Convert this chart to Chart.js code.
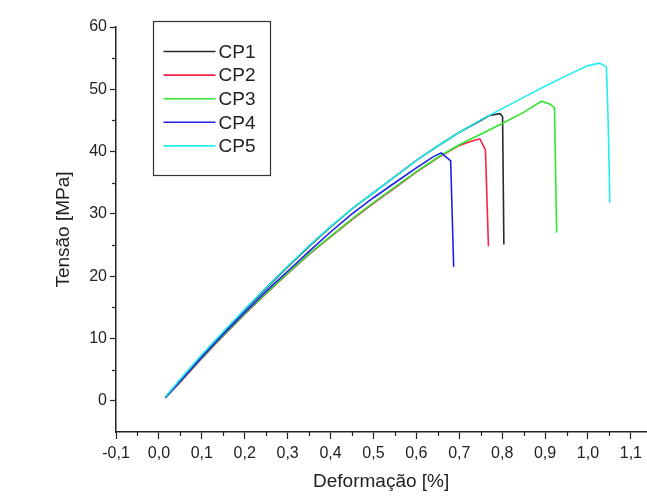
<!DOCTYPE html>
<html><head><meta charset="utf-8">
<script src="https://cdn.jsdelivr.net/npm/chart.js@4.4.0/dist/chart.umd.min.js"></script>
<style>html,body{margin:0;padding:0;background:#fff}#wrap{width:647px;height:496px}</style>
</head><body><div id="wrap"><canvas id="c" width="647" height="496"></canvas></div>
<script>
// ---- data ----
const seriesNames = ['CP1', 'CP2', 'CP3', 'CP4', 'CP5'];
const seriesColors = ['#2a2a2a', '#ff1f45', '#2ee62e', '#2020ee', '#22eeee'];

const cp1X = [0.015, 0.05, 0.1, 0.15, 0.2, 0.25, 0.3, 0.35, 0.4, 0.45, 0.5, 0.55, 0.6, 0.65, 0.7, 0.75, 0.77, 0.795, 0.801, 0.804];
const cp1Y = [0.6, 3.4, 7.3, 11.0, 14.6, 18.1, 21.5, 24.8, 27.9, 30.8, 33.4, 36.0, 38.6, 40.9, 43.1, 45.0, 45.8, 46.1, 45.6, 25.1];

const cp2X = [0.015, 0.05, 0.1, 0.15, 0.2, 0.25, 0.3, 0.35, 0.4, 0.45, 0.5, 0.55, 0.6, 0.65, 0.7, 0.73, 0.748, 0.761, 0.768];
const cp2Y = [0.5, 3.0, 6.8, 10.4, 13.9, 17.2, 20.4, 23.5, 26.3, 29.1, 31.7, 34.2, 36.7, 39.0, 41.0, 41.7, 42.05, 40.3, 24.8];

const cp3X = [0.015, 0.05, 0.1, 0.15, 0.2, 0.25, 0.3, 0.35, 0.4, 0.45, 0.5, 0.55, 0.6, 0.65, 0.7, 0.75, 0.8, 0.85, 0.892, 0.912, 0.922, 0.927];
const cp3Y = [0.5, 3.1, 6.9, 10.5, 14.0, 17.3, 20.5, 23.6, 26.4, 29.2, 31.8, 34.3, 36.8, 39.1, 41.1, 42.8, 44.5, 46.3, 48.1, 47.6, 47.0, 27.0];

const cp4X = [0.015, 0.05, 0.1, 0.15, 0.2, 0.25, 0.3, 0.35, 0.4, 0.45, 0.5, 0.55, 0.6, 0.64, 0.658, 0.68, 0.687];
const cp4Y = [0.5, 3.2, 7.0, 10.7, 14.2, 17.6, 20.8, 24.0, 27.1, 30.0, 32.6, 35.0, 37.4, 39.2, 39.8, 38.5, 21.5];

const cp5X = [0.015, 0.05, 0.1, 0.15, 0.2, 0.25, 0.3, 0.35, 0.4, 0.45, 0.5, 0.55, 0.6, 0.65, 0.7, 0.75, 0.8, 0.85, 0.9, 0.95, 1.0, 1.027, 1.043, 1.047, 1.051];
const cp5Y = [0.6, 3.5, 7.4, 11.1, 14.7, 18.2, 21.6, 24.9, 28.0, 30.8, 33.4, 36.0, 38.6, 40.9, 43.1, 45.1, 46.9, 48.7, 50.5, 52.2, 53.8, 54.2, 53.6, 45.0, 31.8];

const xTickValues = [-0.1, 0.0, 0.1, 0.2, 0.3, 0.4, 0.5, 0.6, 0.7, 0.8, 0.9, 1.0, 1.1];
const xMinorTicks = [-0.05, 0.05, 0.15, 0.25, 0.35, 0.45, 0.55, 0.65, 0.75, 0.85, 0.95, 1.05];
const yTickValues = [0, 10, 20, 30, 40, 50, 60];
const yMinorTicks = [5, 15, 25, 35, 45, 55];

const xTitle = 'Deformação [%]';
const yTitle = 'Tensão [MPa]';

// ---- build datasets ----
const seriesX = [cp1X, cp2X, cp3X, cp4X, cp5X];
const seriesY = [cp1Y, cp2Y, cp3Y, cp4Y, cp5Y];
const datasets = seriesNames.map((name, i) => ({
  label: name,
  data: seriesX[i].map((x, j) => ({ x: x, y: seriesY[i][j] })),
  borderColor: seriesColors[i],
  backgroundColor: seriesColors[i],
  borderWidth: 1.6,
  pointRadius: 0,
  tension: 0,
  fill: false,
  order: seriesNames.length - i
}));

const FONT = 'Liberation Sans, Arial, sans-serif';
const fmt = v => Number(v).toFixed(1).replace('.', ',');

const extras = {
  id: 'extras',
  afterDraw(chart) {
    const ctx = chart.ctx;
    const xs = chart.scales.x, ys = chart.scales.y;
    ctx.save();
    ctx.strokeStyle = '#222';
    ctx.lineWidth = 1.2;
    // minor ticks
    xMinorTicks.forEach(v => {
      const px = Math.round(xs.getPixelForValue(v)) + 0.5;
      ctx.beginPath(); ctx.moveTo(px, xs.top); ctx.lineTo(px, xs.top + 4); ctx.stroke();
    });
    yMinorTicks.forEach(v => {
      const py = Math.round(ys.getPixelForValue(v)) + 0.5;
      ctx.beginPath(); ctx.moveTo(ys.right, py); ctx.lineTo(ys.right - 4, py); ctx.stroke();
    });
    // legend box
    const a = chart.chartArea;
    const bx = a.left + 37.5, by = a.top - 5.5, bw = 117, bh = 154;
    ctx.lineWidth = 1.2;
    ctx.strokeStyle = '#333';
    ctx.strokeRect(bx, by, bw, bh);
    ctx.font = '19px ' + FONT;
    ctx.textBaseline = 'middle';
    ctx.textAlign = 'left';
    chart.data.datasets.forEach((ds, i) => {
      const y = by + 30 + i * 23.6;
      ctx.strokeStyle = ds.borderColor;
      ctx.lineWidth = 1.6;
      ctx.beginPath(); ctx.moveTo(bx + 10, y); ctx.lineTo(bx + 62, y); ctx.stroke();
      ctx.fillStyle = '#222';
      ctx.fillText(ds.label, bx + 65, y + 1);
    });
    ctx.restore();
  }
};

new Chart(document.getElementById('c'), {
  type: 'line',
  data: { datasets },
  options: {
    responsive: false,
    devicePixelRatio: 1,
    animation: false,
    events: [],
    layout: { padding: { top: 27, right: 0, left: 0, bottom: 0 } },
    plugins: { legend: { display: false }, tooltip: { enabled: false } },
    scales: {
      x: {
        type: 'linear',
        min: -0.1,
        max: 1.136,
        afterBuildTicks: s => { s.ticks = xTickValues.map(v => ({ value: v })); },
        afterFit: s => { s.height = 64; },
        border: { display: true, color: '#222', width: 1.5 },
        grid: { display: true, drawOnChartArea: false, drawTicks: true, tickLength: 7, tickColor: '#222', tickWidth: 1.2 },
        ticks: { color: '#222', font: { family: FONT, size: 16 }, padding: 5, maxRotation: 0, autoSkip: false, callback: v => fmt(v) },
        title: { display: true, text: xTitle, color: '#222', font: { family: FONT, size: 19 }, padding: { top: 0, bottom: 3 } }
      },
      y: {
        type: 'linear',
        min: -5,
        max: 60,
        afterBuildTicks: s => { s.ticks = yTickValues.map(v => ({ value: v })); },
        afterFit: s => { s.width = 116; },
        border: { display: true, color: '#222', width: 1.5 },
        grid: { display: true, drawOnChartArea: false, drawTicks: true, tickLength: 6, tickColor: '#222', tickWidth: 1.2 },
        ticks: { color: '#222', font: { family: FONT, size: 16 }, padding: 3, autoSkip: false, callback: v => String(v) },
        title: { display: true, text: yTitle, color: '#222', font: { family: FONT, size: 19 }, padding: { top: 52, bottom: 0 } }
      }
    }
  },
  plugins: [extras]
});
</script>
</body></html>
